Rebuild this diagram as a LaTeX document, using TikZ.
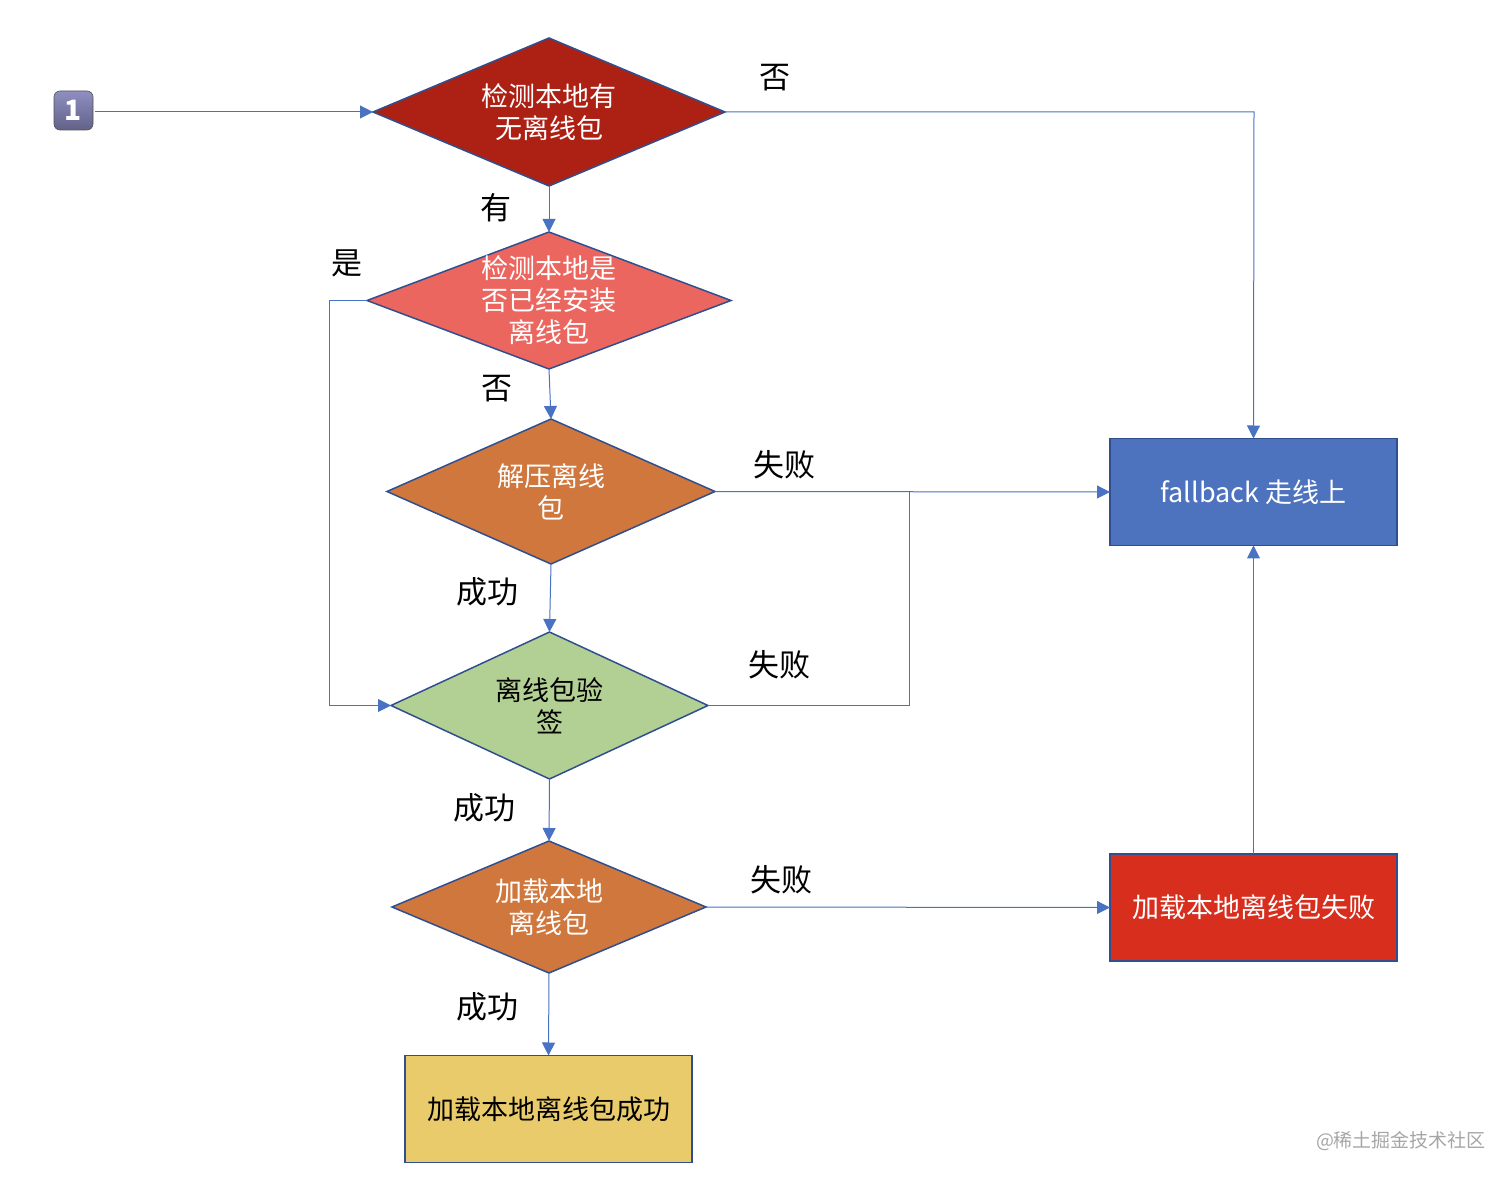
\documentclass[tikz,border=0pt]{standalone}
\usepackage{fontspec}
\setmainfont{Noto Sans CJK SC}
\usetikzlibrary{shapes.geometric,arrows.meta}
\definecolor{linecol}{HTML}{4A72C2}
\definecolor{edgecol}{HTML}{2F4F8F}
\definecolor{cA}{HTML}{AD2115}
\definecolor{cB}{HTML}{EC6660}
\definecolor{cC}{HTML}{CF773D}
\definecolor{cD}{HTML}{B2D093}
\definecolor{cE}{HTML}{4E73BE}
\definecolor{cF}{HTML}{D72E1E}
\definecolor{cG}{HTML}{E9CB6B}
\definecolor{wmark}{HTML}{A6A6A6}
\tikzset{
  x=0.5pt,y=-0.5pt,
  dia/.style={diamond,draw=edgecol,line width=0.75pt,inner sep=0pt,outer sep=0pt},
  diatext/.style={align=center,font=\fontsize{13.5}{16}\selectfont,inner sep=0pt},
  boxn/.style={rectangle,draw=edgecol,line width=0.9pt,inner sep=0pt,outer sep=0pt,minimum width=143.5pt,minimum height=53.5pt,font=\fontsize{13.5}{16}\selectfont},
  conn/.style={draw=linecol,line width=0.5pt,-{Triangle[length=6.5pt,width=6.5pt,fill=linecol]}},
  plain/.style={draw=linecol,line width=0.5pt},
  lab/.style={font=\fontsize{15.5}{18}\selectfont,inner sep=0pt},
}
\begin{document}
\begin{tikzpicture}
\useasboundingbox (0,0) rectangle (1512,1182);
\node[dia,fill=cA,minimum width=176pt,minimum height=74pt,label={[diatext,white]center:{检测本地有\\无离线包}}] (d1) at (549,112) {};
\node[dia,fill=cB,minimum width=182pt,minimum height=68.5pt,label={[diatext,white]center:{检测本地是\\否已经安装\\离线包}}] (d2) at (549,300.5) {};
\node[dia,fill=cC,minimum width=164pt,minimum height=72.5pt,label={[diatext,white]center:{解压离线\\包}}] (d3) at (551,491.5) {};
\node[dia,fill=cD,minimum width=158.5pt,minimum height=73.5pt,label={[diatext,black]center:{离线包验\\签}}] (d4) at (549.5,705.5) {};
\node[dia,fill=cC,minimum width=157pt,minimum height=66pt,label={[diatext,white]center:{加载本地\\离线包}}] (d5) at (549,907) {};
\node[boxn,fill=cE,text=white] (fb) at (1253.5,492) {fallback 走线上};
\node[boxn,fill=cF,text=white] (lf) at (1253.5,907.5) {加载本地离线包失败};
\node[boxn,fill=cG,text=black] (ok) at (548.5,1109) {加载本地离线包成功};
\node[rectangle,rounded corners=3pt,draw=black!35!gray,line width=0.3pt,top color=black!30!white!80!blue,bottom color=black!55!white!85!blue,minimum size=19.5pt,inner sep=0pt,outer sep=1pt,text=white,font=\fontsize{14}{16}\bfseries\selectfont] (one) at (73.5,110.5) {1};
\coordinate (a1) at (1254,112);
\coordinate (b1) at (329,300.5);
\coordinate (b2) at (329,705.5);
\coordinate (c1) at (909,705.5);
\coordinate (c2) at (909,492);
\draw[conn] (one.east |- d1.west) -- (d1.west);
\draw[conn] (d1.east) -- (a1) -- (fb.north);
\draw[conn] (d1.south) -- (d2.north);
\draw[conn] (d2.south) -- (d3.north);
\draw[conn] (d3.south) -- (d4.north);
\draw[conn] (d4.south) -- (d5.north);
\draw[conn] (d5.south) -- (ok.north);
\draw[conn] (d2.west) -- (b1) -- (b2) -- (d4.west);
\draw[conn] (d3.east) -- (fb.west);
\draw[plain] (d4.east) -- (c1) -- (c2);
\draw[conn] (d5.east) -- (lf.west);
\draw[conn] (lf.north) -- (fb.south);
\node[lab] (l1) at (775,78) {否};
\node[lab] (l2) at (496,208) {有};
\node[lab] (l3) at (347,263) {是};
\node[lab] (l4) at (497,389) {否};
\node[lab] (l5) at (784,465) {失败};
\node[lab] (l6) at (487,592) {成功};
\node[lab] (l7) at (779,665) {失败};
\node[lab] (l8) at (484,808) {成功};
\node[lab] (l9) at (781,880) {失败};
\node[lab] (l10) at (487,1007) {成功};
\node[text=wmark,font=\fontsize{9.5}{11}\selectfont,inner sep=0pt] (wm) at (1401,1141) {@稀土掘金技术社区};
\end{tikzpicture}
\end{document}
